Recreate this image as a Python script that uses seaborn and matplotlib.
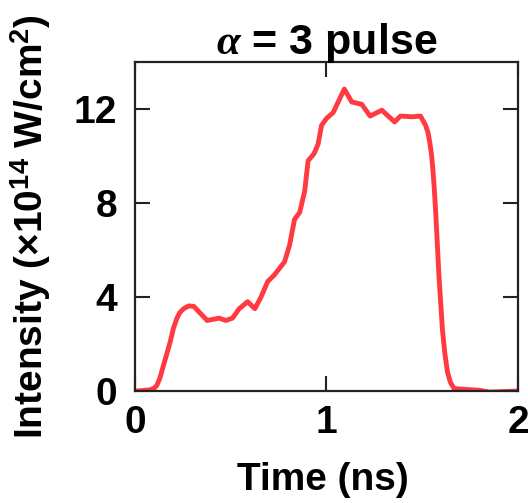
import matplotlib
matplotlib.use("Agg")
import matplotlib.pyplot as plt
import seaborn as sns
import pandas as pd

# pulse shape
time_ns = [0.0, 0.01, 0.079, 0.1, 0.114, 0.13, 0.149, 0.165, 0.184, 0.2, 0.219,
           0.235, 0.254, 0.28, 0.307, 0.342, 0.377,
           0.439, 0.474, 0.509, 0.544, 0.588, 0.626, 0.658, 0.693, 0.728, 0.781,
           0.807, 0.833, 0.86, 0.886, 0.904, 0.935, 0.956, 0.974, 1.0, 1.035,
           1.093, 1.132, 1.184, 1.228, 1.289, 1.356, 1.386, 1.447, 1.491, 1.518,
           1.53, 1.539, 1.548, 1.556, 1.563, 1.57, 1.588, 1.597, 1.605, 1.618,
           1.632, 1.648, 1.667, 1.8, 1.85, 2.0]
intensity = [0.0, 0.0, 0.05, 0.12, 0.24, 0.55, 1.1, 1.55, 2.1, 2.65, 3.1,
             3.35, 3.5, 3.62, 3.6, 3.3, 3.0,
             3.1, 3.0, 3.1, 3.5, 3.8, 3.5, 4.0, 4.66, 4.94, 5.5,
             6.2, 7.3, 7.6, 8.5, 9.8, 10.1, 10.5, 11.3, 11.6, 11.85,
             12.85, 12.3, 12.2, 11.7, 11.95, 11.45, 11.7, 11.67, 11.7, 11.3,
             11.0, 10.6, 10.1, 9.4, 8.6, 7.65, 4.8, 3.7, 2.66, 1.6,
             0.8, 0.35, 0.1, 0.03, -0.05, 0.0]

df = pd.DataFrame({"t": time_ns, "I": intensity})

sns.set_style("ticks")
plt.rcParams["font.family"] = ["Liberation Sans", "DejaVu Sans"]
plt.rcParams["font.weight"] = "bold"
plt.rcParams["mathtext.fontset"] = "custom"
plt.rcParams["mathtext.rm"] = "Liberation Sans:bold"
plt.rcParams["mathtext.bf"] = "Liberation Sans:bold"
plt.rcParams["mathtext.it"] = "Liberation Serif:italic"
for key in ["text.color", "axes.labelcolor", "xtick.labelcolor", "ytick.labelcolor"]:
    plt.rcParams[key] = "black"

fig = plt.figure(figsize=(5.28, 5.03), dpi=100)
ax = fig.add_axes([0.2557, 0.2227, 0.7253, 0.654])

sns.lineplot(data=df, x="t", y="I", ax=ax, color="#ff3a40", linewidth=3.5)
for l in ax.lines:
    l.set_solid_joinstyle("round")
    l.set_solid_capstyle("round")

ax.set_xlim(0, 2)
ax.set_ylim(0, 14)
ax.set_xticks([0, 1, 2])
ax.set_yticks([0, 4, 8, 12])
ax.tick_params(direction="in", length=11, width=1.5, labelsize=28,
               top=True, right=True, color="#222222")
ax.tick_params(axis="x", pad=10)
ax.tick_params(axis="y", pad=13)
for lab in ax.get_xticklabels() + ax.get_yticklabels():
    lab.set_fontweight("bold")
for s in ax.spines.values():
    s.set_linewidth(1.6)
    s.set_color("#222222")

ax.set_xlabel("Time (ns)", fontsize=28, fontweight="bold")
ax.xaxis.set_label_coords(0.49, -0.215)
ax.set_ylabel(r"Intensity ($\times$10$^{14}$ W/cm$^{2}$)", fontsize=28,
              fontweight="bold")
ax.yaxis.set_label_coords(-0.214, 0.5)
ax.set_title(r"$\alpha$ = 3 pulse", fontsize=31, fontweight="bold", pad=6)

fig.savefig("out.png", dpi=100)
